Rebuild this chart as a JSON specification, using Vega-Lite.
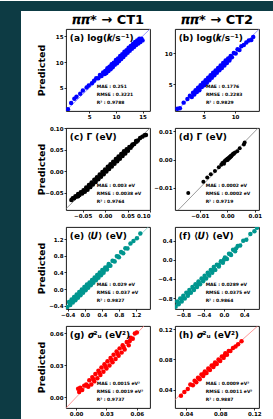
{
"$schema": "https://vega.github.io/schema/vega-lite/v6.json",
"padding": 0,
"background": "white",
"config": {
  "font": "DejaVu Sans",
  "view": {"stroke": "black", "strokeWidth": 0.9},
  "axis": {"labelFont": "DejaVu Sans", "labelFontWeight": "bold", "labelFontSize": 5.5, "labelColor": "black", "tickColor": "black", "tickSize": 2, "tickWidth": 0.8, "labelPadding": 1, "domain": false, "grid": false, "titleFont": "DejaVu Sans", "titleFontWeight": "bold", "titleFontSize": 9.5, "titleColor": "black"},
  "text": {"color": "black"}
},
"datasets": {
  "a": [{"x":1.0,"y":0.9},{"x":1.6,"y":2.1},{"x":2.2,"y":2.9},{"x":2.6,"y":3.3},{"x":3.3,"y":3.9},{"x":3.8,"y":4.5},{"x":4.5,"y":5.1},{"x":4.9,"y":5.5},{"x":5.5,"y":5.9},{"x":5.9,"y":6.4},{"x":6.3,"y":6.9},{"x":6.7,"y":6.9},{"x":7.0,"y":7.5},{"x":7.3,"y":7.3},{"x":7.6,"y":8.0},{"x":7.9,"y":7.7},{"x":8.0,"y":8.3},{"x":8.2,"y":7.9},{"x":8.4,"y":8.8},{"x":8.6,"y":8.3},{"x":8.8,"y":9.1},{"x":9.0,"y":8.6},{"x":9.2,"y":9.6},{"x":9.4,"y":9.0},{"x":9.6,"y":9.9},{"x":9.8,"y":9.5},{"x":10.0,"y":10.4},{"x":10.2,"y":9.8},{"x":10.4,"y":10.7},{"x":10.6,"y":10.2},{"x":10.8,"y":11.2},{"x":11.0,"y":10.6},{"x":11.2,"y":11.5},{"x":11.4,"y":11.0},{"x":11.6,"y":12.0},{"x":11.8,"y":11.4},{"x":12.0,"y":12.3},{"x":12.2,"y":11.8},{"x":12.4,"y":12.8},{"x":12.6,"y":12.2},{"x":12.8,"y":13.1},{"x":13.0,"y":12.6},{"x":13.2,"y":13.5},{"x":13.4,"y":12.9},{"x":13.6,"y":13.9},{"x":13.8,"y":13.3},{"x":14.0,"y":14.2},{"x":14.2,"y":13.6},{"x":14.4,"y":14.5},{"x":14.6,"y":13.9},{"x":14.8,"y":14.5},{"x":15.0,"y":14.2},{"x":9.1,"y":9.1},{"x":10.1,"y":10.1},{"x":11.1,"y":11.1},{"x":12.1,"y":12.0},{"x":13.1,"y":13.0},{"x":14.1,"y":13.9},{"x":12.7,"y":12.7},{"x":13.7,"y":13.6},{"x":11.7,"y":11.7},{"x":10.7,"y":10.7},{"x":8.5,"y":8.5},{"x":9.7,"y":9.7}],
  "b": [{"x":0.8,"y":1.0},{"x":1.2,"y":1.1},{"x":1.8,"y":2.0},{"x":2.4,"y":2.6},{"x":2.8,"y":3.1},{"x":3.1,"y":2.9},{"x":3.3,"y":3.6},{"x":3.5,"y":3.3},{"x":3.7,"y":4.0},{"x":3.9,"y":3.7},{"x":4.1,"y":4.4},{"x":4.3,"y":4.0},{"x":4.5,"y":4.8},{"x":4.7,"y":4.5},{"x":4.9,"y":5.2},{"x":5.1,"y":4.8},{"x":5.3,"y":5.6},{"x":5.5,"y":5.2},{"x":5.7,"y":6.0},{"x":5.9,"y":5.6},{"x":6.1,"y":6.4},{"x":6.3,"y":6.0},{"x":6.5,"y":6.8},{"x":6.7,"y":6.4},{"x":6.9,"y":7.2},{"x":7.1,"y":6.8},{"x":7.3,"y":7.6},{"x":7.5,"y":7.2},{"x":7.7,"y":8.0},{"x":7.9,"y":7.6},{"x":8.1,"y":8.4},{"x":8.3,"y":8.0},{"x":8.5,"y":8.8},{"x":8.7,"y":8.4},{"x":8.9,"y":9.1},{"x":9.1,"y":8.8},{"x":9.3,"y":9.5},{"x":9.5,"y":9.3},{"x":9.8,"y":10.0},{"x":10.1,"y":9.9},{"x":10.4,"y":10.6},{"x":10.7,"y":10.5},{"x":11.0,"y":11.1},{"x":11.4,"y":11.3},{"x":11.8,"y":11.7},{"x":12.2,"y":12.0},{"x":12.6,"y":12.1},{"x":12.9,"y":12.6},{"x":4.4,"y":4.4},{"x":5.4,"y":5.4},{"x":6.4,"y":6.4},{"x":7.4,"y":7.4},{"x":8.4,"y":8.4},{"x":9.2,"y":9.2}],
  "c": [{"x":-0.075,"y":-0.067},{"x":-0.072,"y":-0.063},{"x":-0.069,"y":-0.063},{"x":-0.066,"y":-0.058},{"x":-0.063,"y":-0.059},{"x":-0.060,"y":-0.053},{"x":-0.057,"y":-0.055},{"x":-0.054,"y":-0.049},{"x":-0.051,"y":-0.052},{"x":-0.048,"y":-0.044},{"x":-0.045,"y":-0.048},{"x":-0.042,"y":-0.038},{"x":-0.039,"y":-0.043},{"x":-0.036,"y":-0.032},{"x":-0.033,"y":-0.037},{"x":-0.030,"y":-0.026},{"x":-0.027,"y":-0.031},{"x":-0.024,"y":-0.020},{"x":-0.021,"y":-0.025},{"x":-0.018,"y":-0.014},{"x":-0.015,"y":-0.019},{"x":-0.012,"y":-0.008},{"x":-0.009,"y":-0.013},{"x":-0.006,"y":-0.002},{"x":-0.003,"y":-0.007},{"x":0.000,"y":0.004},{"x":0.003,"y":-0.001},{"x":0.006,"y":0.010},{"x":0.009,"y":0.005},{"x":0.012,"y":0.016},{"x":0.015,"y":0.011},{"x":0.018,"y":0.022},{"x":0.021,"y":0.017},{"x":0.024,"y":0.028},{"x":0.027,"y":0.023},{"x":0.030,"y":0.034},{"x":0.033,"y":0.029},{"x":0.036,"y":0.040},{"x":0.039,"y":0.035},{"x":0.042,"y":0.046},{"x":0.045,"y":0.041},{"x":0.048,"y":0.051},{"x":0.051,"y":0.047},{"x":0.054,"y":0.056},{"x":0.057,"y":0.054},{"x":0.061,"y":0.062},{"x":0.065,"y":0.063},{"x":0.069,"y":0.070},{"x":0.073,"y":0.071},{"x":0.078,"y":0.077},{"x":0.083,"y":0.080},{"x":0.088,"y":0.083},{"x":0.091,"y":0.084},{"x":-0.040,"y":-0.040},{"x":-0.020,"y":-0.020},{"x":0.000,"y":0.000},{"x":0.020,"y":0.020},{"x":0.040,"y":0.040},{"x":-0.060,"y":-0.058},{"x":0.060,"y":0.059},{"x":-0.030,"y":-0.031},{"x":-0.010,"y":-0.010},{"x":0.010,"y":0.010},{"x":0.030,"y":0.030},{"x":0.050,"y":0.049},{"x":-0.050,"y":-0.049},{"x":0.070,"y":0.068}],
  "d": [{"x":-0.0142,"y":-0.0118},{"x":-0.0087,"y":-0.0078},{"x":-0.0073,"y":-0.0063},{"x":-0.0060,"y":-0.0052},{"x":-0.0045,"y":-0.0040},{"x":-0.0031,"y":-0.0027},{"x":-0.0022,"y":-0.0018},{"x":-0.0018,"y":-0.0012},{"x":-0.0014,"y":-0.0010},{"x":-0.0010,"y":-0.0006},{"x":-0.0007,"y":-0.0003},{"x":-0.0004,"y":0.0000},{"x":-0.0002,"y":-0.0002},{"x":0.0000,"y":0.0003},{"x":0.0002,"y":0.0002},{"x":0.0004,"y":0.0006},{"x":0.0006,"y":0.0004},{"x":0.0008,"y":0.0009},{"x":0.0010,"y":0.0008},{"x":0.0012,"y":0.0013},{"x":0.0014,"y":0.0011},{"x":0.0017,"y":0.0016},{"x":0.0020,"y":0.0019},{"x":0.0024,"y":0.0021},{"x":0.0028,"y":0.0025},{"x":0.0036,"y":0.0030},{"x":0.0045,"y":0.0040},{"x":0.0060,"y":0.0054},{"x":0.0063,"y":0.0061},{"x":-0.0012,"y":-0.0014},{"x":0.0001,"y":-0.0001},{"x":0.0015,"y":0.0015},{"x":0.0022,"y":0.0022}],
  "e": [{"x":-0.41,"y":-0.43},{"x":-0.37,"y":-0.31},{"x":-0.34,"y":-0.38},{"x":-0.31,"y":-0.25},{"x":-0.28,"y":-0.32},{"x":-0.25,"y":-0.19},{"x":-0.22,"y":-0.27},{"x":-0.19,"y":-0.13},{"x":-0.16,"y":-0.21},{"x":-0.13,"y":-0.07},{"x":-0.10,"y":-0.15},{"x":-0.07,"y":-0.01},{"x":-0.04,"y":-0.09},{"x":-0.01,"y":0.05},{"x":0.02,"y":-0.03},{"x":0.05,"y":0.11},{"x":0.08,"y":0.03},{"x":0.11,"y":0.16},{"x":0.14,"y":0.09},{"x":0.17,"y":0.22},{"x":0.20,"y":0.15},{"x":0.23,"y":0.28},{"x":0.26,"y":0.21},{"x":0.29,"y":0.34},{"x":0.32,"y":0.27},{"x":0.35,"y":0.40},{"x":0.38,"y":0.33},{"x":0.41,"y":0.46},{"x":0.44,"y":0.39},{"x":0.48,"y":0.52},{"x":0.52,"y":0.47},{"x":0.56,"y":0.60},{"x":0.60,"y":0.56},{"x":0.65,"y":0.68},{"x":0.70,"y":0.66},{"x":0.75,"y":0.79},{"x":0.80,"y":0.76},{"x":0.85,"y":0.89},{"x":0.90,"y":0.86},{"x":0.95,"y":0.98},{"x":1.00,"y":0.97},{"x":1.07,"y":1.09},{"x":1.14,"y":1.15},{"x":1.22,"y":1.22},{"x":1.30,"y":1.33},{"x":-0.35,"y":-0.35},{"x":-0.25,"y":-0.25},{"x":-0.15,"y":-0.15},{"x":-0.05,"y":-0.05},{"x":0.05,"y":0.05},{"x":0.15,"y":0.15},{"x":0.25,"y":0.25},{"x":0.35,"y":0.35},{"x":0.45,"y":0.45},{"x":0.55,"y":0.55},{"x":0.67,"y":0.67},{"x":0.78,"y":0.78}],
  "f": [{"x":-0.95,"y":-0.98},{"x":-0.92,"y":-0.87},{"x":-0.89,"y":-0.93},{"x":-0.86,"y":-0.81},{"x":-0.83,"y":-0.87},{"x":-0.80,"y":-0.75},{"x":-0.77,"y":-0.81},{"x":-0.74,"y":-0.69},{"x":-0.71,"y":-0.75},{"x":-0.68,"y":-0.63},{"x":-0.65,"y":-0.69},{"x":-0.62,"y":-0.57},{"x":-0.59,"y":-0.63},{"x":-0.56,"y":-0.51},{"x":-0.53,"y":-0.57},{"x":-0.50,"y":-0.45},{"x":-0.47,"y":-0.51},{"x":-0.44,"y":-0.39},{"x":-0.41,"y":-0.45},{"x":-0.38,"y":-0.33},{"x":-0.35,"y":-0.39},{"x":-0.32,"y":-0.27},{"x":-0.29,"y":-0.33},{"x":-0.26,"y":-0.21},{"x":-0.23,"y":-0.27},{"x":-0.20,"y":-0.15},{"x":-0.17,"y":-0.21},{"x":-0.14,"y":-0.10},{"x":-0.10,"y":-0.14},{"x":-0.06,"y":-0.03},{"x":-0.02,"y":-0.06},{"x":0.02,"y":0.05},{"x":0.06,"y":0.02},{"x":0.10,"y":0.13},{"x":0.14,"y":0.10},{"x":0.18,"y":0.21},{"x":0.22,"y":0.18},{"x":0.27,"y":0.29},{"x":0.32,"y":0.30},{"x":0.38,"y":0.40},{"x":0.44,"y":0.42},{"x":0.52,"y":0.54},{"x":0.60,"y":0.60},{"x":0.65,"y":0.67},{"x":-0.90,"y":-0.90},{"x":-0.80,"y":-0.80},{"x":-0.70,"y":-0.70},{"x":-0.60,"y":-0.60},{"x":-0.50,"y":-0.50},{"x":-0.40,"y":-0.40},{"x":-0.30,"y":-0.30},{"x":-0.20,"y":-0.20},{"x":-0.10,"y":-0.10},{"x":0.00,"y":0.00},{"x":0.12,"y":0.12},{"x":0.24,"y":0.24}],
  "g": [{"x":0.002,"y":0.008},{"x":0.003,"y":0.005},{"x":0.004,"y":0.009},{"x":0.006,"y":0.007},{"x":0.008,"y":0.011},{"x":0.010,"y":0.012},{"x":0.012,"y":0.010},{"x":0.013,"y":0.016},{"x":0.015,"y":0.012},{"x":0.016,"y":0.019},{"x":0.018,"y":0.015},{"x":0.019,"y":0.022},{"x":0.021,"y":0.018},{"x":0.022,"y":0.025},{"x":0.024,"y":0.021},{"x":0.025,"y":0.028},{"x":0.027,"y":0.024},{"x":0.028,"y":0.031},{"x":0.030,"y":0.027},{"x":0.031,"y":0.034},{"x":0.033,"y":0.030},{"x":0.034,"y":0.037},{"x":0.036,"y":0.033},{"x":0.037,"y":0.040},{"x":0.039,"y":0.036},{"x":0.040,"y":0.043},{"x":0.042,"y":0.039},{"x":0.043,"y":0.046},{"x":0.045,"y":0.042},{"x":0.046,"y":0.049},{"x":0.048,"y":0.045},{"x":0.050,"y":0.052},{"x":0.052,"y":0.049},{"x":0.054,"y":0.056},{"x":0.056,"y":0.055},{"x":0.058,"y":0.060},{"x":0.060,"y":0.061},{"x":0.011,"y":0.011},{"x":0.017,"y":0.017},{"x":0.023,"y":0.023},{"x":0.029,"y":0.029},{"x":0.035,"y":0.035},{"x":0.041,"y":0.041},{"x":0.047,"y":0.047},{"x":0.053,"y":0.053}],
  "h": [{"x":0.034,"y":0.032},{"x":0.038,"y":0.037},{"x":0.042,"y":0.041},{"x":0.045,"y":0.047},{"x":0.048,"y":0.046},{"x":0.050,"y":0.052},{"x":0.052,"y":0.050},{"x":0.054,"y":0.056},{"x":0.056,"y":0.054},{"x":0.058,"y":0.060},{"x":0.060,"y":0.058},{"x":0.062,"y":0.064},{"x":0.064,"y":0.062},{"x":0.066,"y":0.068},{"x":0.068,"y":0.066},{"x":0.070,"y":0.072},{"x":0.072,"y":0.070},{"x":0.074,"y":0.076},{"x":0.076,"y":0.074},{"x":0.078,"y":0.080},{"x":0.080,"y":0.078},{"x":0.082,"y":0.084},{"x":0.084,"y":0.082},{"x":0.086,"y":0.088},{"x":0.088,"y":0.086},{"x":0.090,"y":0.091},{"x":0.092,"y":0.091},{"x":0.095,"y":0.095},{"x":0.098,"y":0.097},{"x":0.101,"y":0.100},{"x":0.105,"y":0.104},{"x":0.055,"y":0.055},{"x":0.061,"y":0.061},{"x":0.067,"y":0.067},{"x":0.073,"y":0.073},{"x":0.079,"y":0.079},{"x":0.085,"y":0.085}]
},
"spacing": 0,
"vconcat": [
  {"width": 273, "height": 10, "view": {"fill": "#0d3b44", "stroke": null}, "data": {"values": [{}]}, "mark": {"type": "text", "text": ""}},
  {"spacing": 14, "hconcat": [
    {"width": 21, "height": 409, "view": {"fill": "#0d3b44", "stroke": null}, "data": {"values": [{}]}, "mark": {"type": "text", "text": ""}},
    {"spacing": 0, "vconcat": [
      {"spacing": 25, "hconcat": [
        {"width": 84, "height": 17, "view": {"stroke": null}, "data": {"values": [{"t": "𝝅𝝅* → CT1"}]}, "mark": {"type": "text", "fontSize": 13, "fontWeight": "bold", "baseline": "middle", "align": "center"}, "encoding": {"text": {"field": "t"}}},
        {"width": 84, "height": 17, "view": {"stroke": null}, "data": {"values": [{"t": "𝝅𝝅* → CT2"}]}, "mark": {"type": "text", "fontSize": 13, "fontWeight": "bold", "baseline": "middle", "align": "center"}, "encoding": {"text": {"field": "t"}}}
      ]},
      {"columns": 2, "spacing": {"row": 17, "column": 25}, "bounds": "flush", "concat": [
        {"width": 84, "height": 82,
         "encoding": {
           "x": {"field": "x", "type": "quantitative", "scale": {"domain": [0.63, 16.4], "nice": false, "zero": false}, "axis": {"values": [5, 10, 15], "format": "d", "title": null}},
           "y": {"field": "y", "type": "quantitative", "scale": {"domain": [0.55, 16.4], "nice": false, "zero": false}, "axis": {"values": [5, 10, 15], "format": "d", "title": "Predicted", "minExtent": 18, "maxExtent": 18, "titlePadding": 2}}
         },
         "layer": [
           {"data": {"values": [{"x": 0.55, "y": 0.55}, {"x": 16.4, "y": 16.4}]}, "mark": {"type": "line", "color": "#8080ff", "strokeWidth": 0.8, "clip": true}},
           {"data": {"name": "a"}, "mark": {"type": "circle", "color": "#0000ff", "size": 20, "opacity": 1, "clip": true}},
           {"data": {"values": [{"x": 1.34, "y": 14.58, "t": "(a) log(𝒌/s⁻¹)"}]}, "mark": {"type": "text", "align": "left", "baseline": "middle", "fontSize": 9, "fontWeight": "bold"}, "encoding": {"text": {"field": "t"}}},
           {"data": {"values": [{"x": 6.39, "y": 5.15, "t": "MAE : 0.251"}, {"x": 6.39, "y": 3.64, "t": "RMSE : 0.3221"}, {"x": 6.39, "y": 2.13, "t": "R² : 0.9788"}]}, "mark": {"type": "text", "align": "left", "baseline": "middle", "fontSize": 4.5, "fontWeight": "bold"}, "encoding": {"text": {"field": "t"}}}
         ]},
        {"width": 84, "height": 82,
         "encoding": {
           "x": {"field": "x", "type": "quantitative", "scale": {"domain": [0.42, 13.82], "nice": false, "zero": false}, "axis": {"values": [5, 10], "format": "d", "title": null}},
           "y": {"field": "y", "type": "quantitative", "scale": {"domain": [0.65, 13.87], "nice": false, "zero": false}, "axis": {"values": [5, 10], "format": "d", "title": null}}
         },
         "layer": [
           {"data": {"values": [{"x": 0.42, "y": 0.42}, {"x": 13.82, "y": 13.82}]}, "mark": {"type": "line", "color": "#8080ff", "strokeWidth": 0.8, "clip": true}},
           {"data": {"name": "b"}, "mark": {"type": "circle", "color": "#0000ff", "size": 20, "opacity": 1, "clip": true}},
           {"data": {"values": [{"x": 1.02, "y": 12.35, "t": "(b) log(𝒌/s⁻¹)"}]}, "mark": {"type": "text", "align": "left", "baseline": "middle", "fontSize": 9, "fontWeight": "bold"}, "encoding": {"text": {"field": "t"}}},
           {"data": {"values": [{"x": 5.35, "y": 4.48, "t": "MAE : 0.1776"}, {"x": 5.35, "y": 3.23, "t": "RMSE : 0.2283"}, {"x": 5.35, "y": 1.97, "t": "R² : 0.9829"}]}, "mark": {"type": "text", "align": "left", "baseline": "middle", "fontSize": 4.5, "fontWeight": "bold"}, "encoding": {"text": {"field": "t"}}}
         ]},
        {"width": 84, "height": 82,
         "encoding": {
           "x": {"field": "x", "type": "quantitative", "scale": {"domain": [-0.087, 0.10], "nice": false, "zero": false}, "axis": {"values": [-0.05, 0, 0.05, 0.10], "format": ".2f", "title": null}},
           "y": {"field": "y", "type": "quantitative", "scale": {"domain": [-0.09, 0.10], "nice": false, "zero": false}, "axis": {"values": [-0.05, 0, 0.05, 0.10], "format": ".2f", "title": "Predicted", "minExtent": 18, "maxExtent": 18, "titlePadding": 2}}
         },
         "layer": [
           {"data": {"values": [{"x": -0.09, "y": -0.09}, {"x": 0.10, "y": 0.10}]}, "mark": {"type": "line", "color": "#808080", "strokeWidth": 0.8, "clip": true}},
           {"data": {"name": "c"}, "mark": {"type": "circle", "color": "#000000", "size": 20, "opacity": 1, "clip": true}},
           {"data": {"values": [{"x": -0.0786, "y": 0.0781, "t": "(c) Γ (eV)"}]}, "mark": {"type": "text", "align": "left", "baseline": "middle", "fontSize": 9, "fontWeight": "bold"}, "encoding": {"text": {"field": "t"}}},
           {"data": {"values": [{"x": -0.0187, "y": -0.0349, "t": "MAE : 0.003 eV"}, {"x": -0.0187, "y": -0.053, "t": "RMSE : 0.0038 eV"}, {"x": -0.0187, "y": -0.071, "t": "R² : 0.9764"}]}, "mark": {"type": "text", "align": "left", "baseline": "middle", "fontSize": 4.5, "fontWeight": "bold"}, "encoding": {"text": {"field": "t"}}}
         ]},
        {"width": 84, "height": 82,
         "encoding": {
           "x": {"field": "x", "type": "quantitative", "scale": {"domain": [-0.019, 0.0115], "nice": false, "zero": false}, "axis": {"values": [-0.01, 0, 0.01], "format": ".2f", "title": null}},
           "y": {"field": "y", "type": "quantitative", "scale": {"domain": [-0.0178, 0.0112], "nice": false, "zero": false}, "axis": {"values": [-0.01, 0, 0.01], "format": ".2f", "title": null}}
         },
         "layer": [
           {"data": {"values": [{"x": -0.019, "y": -0.019}, {"x": 0.0115, "y": 0.0115}]}, "mark": {"type": "line", "color": "#808080", "strokeWidth": 0.8, "clip": true}},
           {"data": {"name": "d"}, "mark": {"type": "circle", "color": "#000000", "size": 16, "opacity": 1, "clip": true}},
           {"data": {"values": [{"x": -0.01763, "y": 0.00786, "t": "(d) Γ (eV)"}]}, "mark": {"type": "text", "align": "left", "baseline": "middle", "fontSize": 9, "fontWeight": "bold"}, "encoding": {"text": {"field": "t"}}},
           {"data": {"values": [{"x": -0.00787, "y": -0.00939, "t": "MAE : 0.0002 eV"}, {"x": -0.00787, "y": -0.01214, "t": "RMSE : 0.0002 eV"}, {"x": -0.00787, "y": -0.0149, "t": "R² : 0.9719"}]}, "mark": {"type": "text", "align": "left", "baseline": "middle", "fontSize": 4.5, "fontWeight": "bold"}, "encoding": {"text": {"field": "t"}}}
         ]},
        {"width": 84, "height": 82,
         "encoding": {
           "x": {"field": "x", "type": "quantitative", "scale": {"domain": [-0.44, 1.527], "nice": false, "zero": false}, "axis": {"values": [-0.4, 0, 0.4, 0.8, 1.2], "format": ".1f", "title": null}},
           "y": {"field": "y", "type": "quantitative", "scale": {"domain": [-0.478, 1.488], "nice": false, "zero": false}, "axis": {"values": [-0.4, 0, 0.4, 0.8, 1.2], "format": ".1f", "title": "Predicted", "minExtent": 18, "maxExtent": 18, "titlePadding": 2}}
         },
         "layer": [
           {"data": {"values": [{"x": -0.478, "y": -0.478}, {"x": 1.527, "y": 1.527}]}, "mark": {"type": "line", "color": "#7fcac7", "strokeWidth": 0.8, "clip": true}},
           {"data": {"name": "e"}, "mark": {"type": "circle", "color": "#00968f", "size": 20, "opacity": 1, "clip": true}},
           {"data": {"values": [{"x": -0.3515, "y": 1.262, "t": "(e) ⟨𝑼⟩ (eV)"}]}, "mark": {"type": "text", "align": "left", "baseline": "middle", "fontSize": 9, "fontWeight": "bold"}, "encoding": {"text": {"field": "t"}}},
           {"data": {"values": [{"x": 0.278, "y": 0.092, "t": "MAE : 0.029 eV"}, {"x": 0.278, "y": -0.095, "t": "RMSE : 0.037 eV"}, {"x": 0.278, "y": -0.281, "t": "R² : 0.9827"}]}, "mark": {"type": "text", "align": "left", "baseline": "middle", "fontSize": 4.5, "fontWeight": "bold"}, "encoding": {"text": {"field": "t"}}}
         ]},
        {"width": 84, "height": 82,
         "encoding": {
           "x": {"field": "x", "type": "quantitative", "scale": {"domain": [-0.963, 0.69], "nice": false, "zero": false}, "axis": {"values": [-0.8, -0.4, 0, 0.4], "format": ".1f", "title": null}},
           "y": {"field": "y", "type": "quantitative", "scale": {"domain": [-1.028, 0.687], "nice": false, "zero": false}, "axis": {"values": [-0.8, -0.4, 0, 0.4], "format": ".1f", "title": null}}
         },
         "layer": [
           {"data": {"values": [{"x": -1.028, "y": -1.028}, {"x": 0.687, "y": 0.687}]}, "mark": {"type": "line", "color": "#7fcac7", "strokeWidth": 0.8, "clip": true}},
           {"data": {"name": "f"}, "mark": {"type": "circle", "color": "#00968f", "size": 20, "opacity": 1, "clip": true}},
           {"data": {"values": [{"x": -0.889, "y": 0.49, "t": "(f) ⟨𝑼⟩ (eV)"}]}, "mark": {"type": "text", "align": "left", "baseline": "middle", "fontSize": 9, "fontWeight": "bold"}, "encoding": {"text": {"field": "t"}}},
           {"data": {"values": [{"x": -0.36, "y": -0.531, "t": "MAE : 0.0289 eV"}, {"x": -0.36, "y": -0.694, "t": "RMSE : 0.0375 eV"}, {"x": -0.36, "y": -0.8565, "t": "R² : 0.9864"}]}, "mark": {"type": "text", "align": "left", "baseline": "middle", "fontSize": 4.5, "fontWeight": "bold"}, "encoding": {"text": {"field": "t"}}}
         ]},
        {"width": 84, "height": 82,
         "encoding": {
           "x": {"field": "x", "type": "quantitative", "scale": {"domain": [-0.01, 0.073], "nice": false, "zero": false}, "axis": {"values": [0, 0.03, 0.06], "format": ".2f", "title": null}},
           "y": {"field": "y", "type": "quantitative", "scale": {"domain": [-0.01, 0.067], "nice": false, "zero": false}, "axis": {"values": [0, 0.03, 0.06], "format": ".2f", "title": "Predicted", "minExtent": 18, "maxExtent": 18, "titlePadding": 2}}
         },
         "layer": [
           {"data": {"values": [{"x": -0.01, "y": -0.01}, {"x": 0.067, "y": 0.067}]}, "mark": {"type": "line", "color": "#ff8080", "strokeWidth": 0.8, "clip": true}},
           {"data": {"name": "g"}, "mark": {"type": "circle", "color": "#ff0000", "size": 20, "opacity": 1, "clip": true}},
           {"data": {"values": [{"x": -0.00626, "y": 0.0581, "t": "(g) 𝝈²ᵤ (eV²)"}]}, "mark": {"type": "text", "align": "left", "baseline": "middle", "fontSize": 9, "fontWeight": "bold"}, "encoding": {"text": {"field": "t"}}},
           {"data": {"values": [{"x": 0.0203, "y": 0.0123, "t": "MAE : 0.0015 eV²"}, {"x": 0.0203, "y": 0.005, "t": "RMSE : 0.0019 eV²"}, {"x": 0.0203, "y": -0.0023, "t": "R² : 0.9737"}]}, "mark": {"type": "text", "align": "left", "baseline": "middle", "fontSize": 4.5, "fontWeight": "bold"}, "encoding": {"text": {"field": "t"}}}
         ]},
        {"width": 84, "height": 82,
         "encoding": {
           "x": {"field": "x", "type": "quantitative", "scale": {"domain": [0.027, 0.1255], "nice": false, "zero": false}, "axis": {"values": [0.04, 0.08, 0.12], "format": ".2f", "title": null}},
           "y": {"field": "y", "type": "quantitative", "scale": {"domain": [0.016, 0.124], "nice": false, "zero": false}, "axis": {"values": [0.04, 0.08, 0.12], "format": ".2f", "title": null}}
         },
         "layer": [
           {"data": {"values": [{"x": 0.016, "y": 0.016}, {"x": 0.124, "y": 0.124}]}, "mark": {"type": "line", "color": "#ff8080", "strokeWidth": 0.8, "clip": true}},
           {"data": {"name": "h"}, "mark": {"type": "circle", "color": "#ff0000", "size": 20, "opacity": 1, "clip": true}},
           {"data": {"values": [{"x": 0.0314, "y": 0.1116, "t": "(h) 𝝈²ᵤ (eV²)"}]}, "mark": {"type": "text", "align": "left", "baseline": "middle", "fontSize": 9, "fontWeight": "bold"}, "encoding": {"text": {"field": "t"}}},
           {"data": {"values": [{"x": 0.063, "y": 0.0473, "t": "MAE : 0.0009 eV²"}, {"x": 0.063, "y": 0.0371, "t": "RMSE : 0.0011 eV²"}, {"x": 0.063, "y": 0.0268, "t": "R² : 0.9887"}]}, "mark": {"type": "text", "align": "left", "baseline": "middle", "fontSize": 4.5, "fontWeight": "bold"}, "encoding": {"text": {"field": "t"}}}
         ]}
      ]}
    ]}
  ]}
]
}
